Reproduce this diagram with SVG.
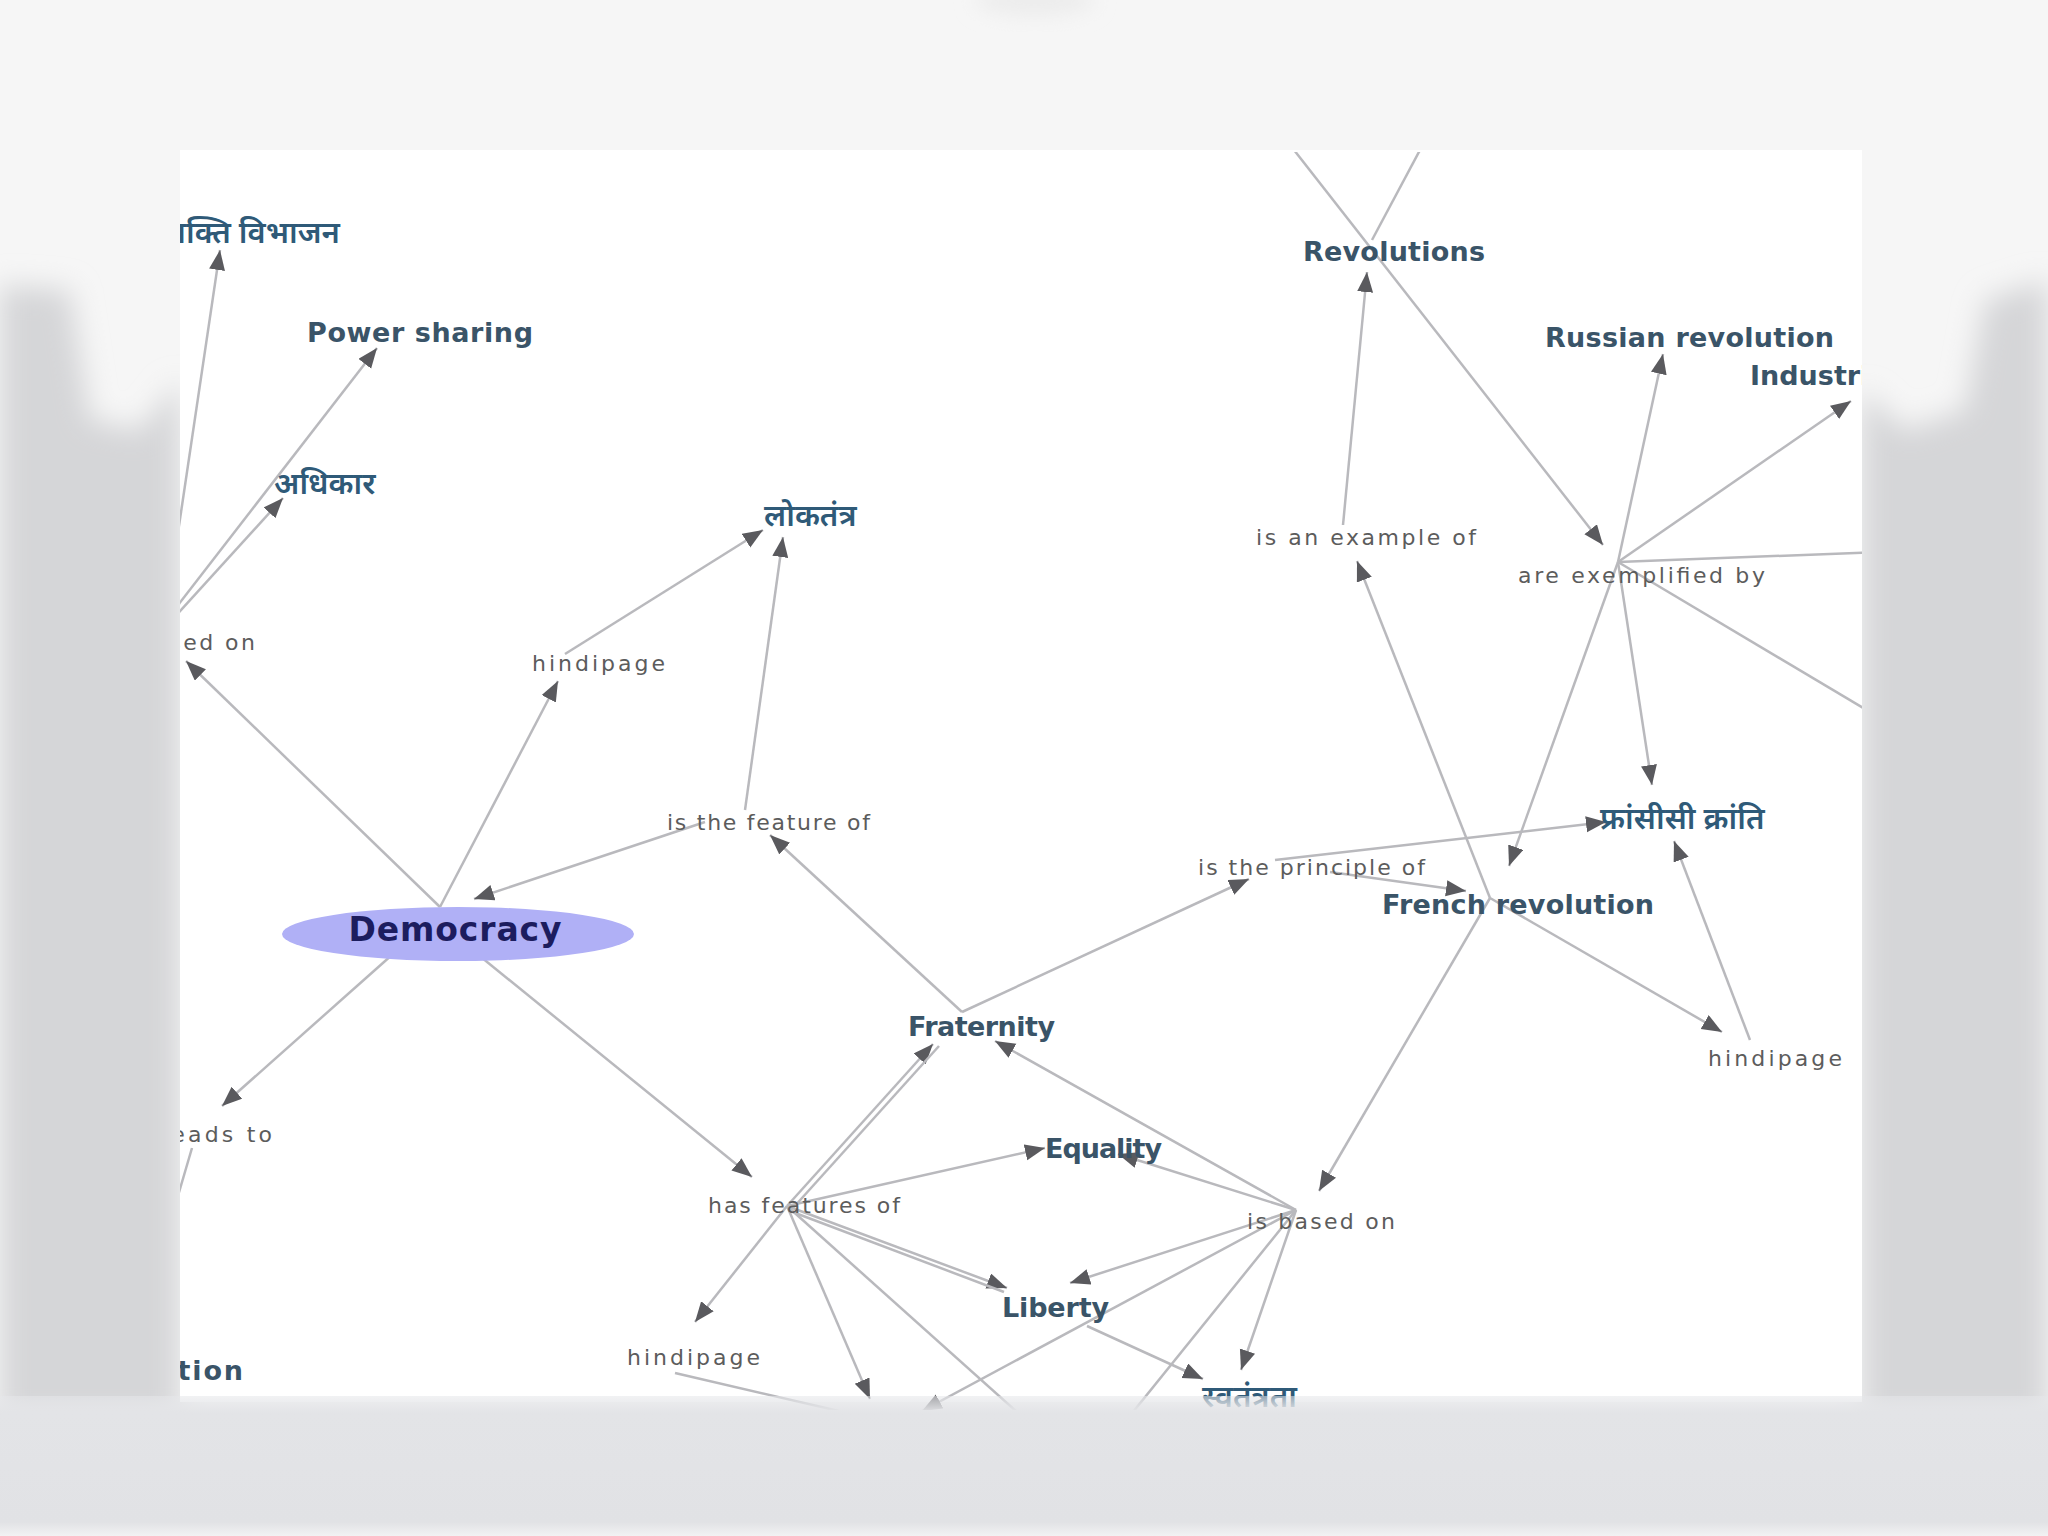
<svg xmlns="http://www.w3.org/2000/svg" width="2048" height="1536" viewBox="0 0 2048 1536">
<defs>
<style>
.cn{font-family:"DejaVu Sans","Liberation Sans",sans-serif;font-weight:bold;font-size:27px;fill:#3a5468}
.hi{font-family:"Noto Sans","DejaVu Sans",sans-serif;font-weight:600;font-size:31px;fill:#2f5a78}
.lk{font-family:"DejaVu Sans","Liberation Sans",sans-serif;font-size:22px;fill:#5c5c5c}
.ln{stroke:#b9b9bd;stroke-width:2.5;fill:none}
.ar{marker-end:url(#ah)}
</style>
<marker id="ah" markerUnits="userSpaceOnUse" markerWidth="22" markerHeight="18" refX="20" refY="8" orient="auto">
<path d="M0,0 L20,8 L0,16 z" fill="#5a5a5e"/>
</marker>
<clipPath id="panel"><rect x="180" y="152" width="1682" height="1258"/></clipPath>
<filter id="blur" x="-50%" y="-50%" width="200%" height="200%"><feGaussianBlur stdDeviation="14"/></filter>
<filter id="blur2" x="-50%" y="-50%" width="200%" height="200%"><feGaussianBlur stdDeviation="10"/></filter>
<linearGradient id="band" x1="0" y1="0" x2="0" y2="1">
<stop offset="0" stop-color="#e6e7ea" stop-opacity="0.55"/>
<stop offset="0.12" stop-color="#e3e4e7"/>
<stop offset="0.9" stop-color="#e1e2e5"/>
<stop offset="1" stop-color="#f2f2f3"/>
</linearGradient>
</defs>
<g id="background">
<rect width="2048" height="1536" fill="#f6f6f6"/>
<g filter="url(#blur)" fill="#d5d6d8">
<path d="M0,285 L70,290 L90,420 L140,430 L180,380 L180,1420 L0,1420 z"/>
<path d="M2048,280 L1985,300 L1965,410 L1905,430 L1862,390 L1862,1420 L2048,1420 z"/>
</g>
<g filter="url(#blur2)" fill="#ececec">
<ellipse cx="1035" cy="0" rx="60" ry="16"/>
</g>
<rect x="180" y="150" width="1682" height="1252" fill="#ffffff"/>
</g>
<g clip-path="url(#panel)">
<g id="connectors">
<line class="ln ar" x1="165" y1="620" x2="220" y2="250"/>
<line class="ln ar" x1="168" y1="618" x2="377" y2="348"/>
<line class="ln ar" x1="170" y1="622" x2="283" y2="498"/>
<line class="ln ar" x1="440" y1="907" x2="186" y2="661"/>
<line class="ln ar" x1="440" y1="907" x2="558" y2="681"/>
<line class="ln ar" x1="565" y1="654" x2="763" y2="530"/>
<line class="ln ar" x1="745" y1="810" x2="783" y2="537"/>
<line class="ln ar" x1="705" y1="822" x2="474" y2="899"/>
<line class="ln ar" x1="962" y1="1012" x2="770" y2="835"/>
<line class="ln ar" x1="402" y1="946" x2="222" y2="1106"/>
<line class="ln" x1="192" y1="1148" x2="165" y2="1240"/>
<line class="ln ar" x1="465" y1="944" x2="752" y2="1177"/>
<line class="ln ar" x1="787" y1="1206" x2="933" y2="1044"/>
<line class="ln" x1="793" y1="1208" x2="939" y2="1046"/>
<line class="ln ar" x1="787" y1="1206" x2="1045" y2="1148"/>
<line class="ln ar" x1="787" y1="1206" x2="1007" y2="1288"/>
<line class="ln" x1="790" y1="1211" x2="1004" y2="1292"/>
<line class="ln ar" x1="787" y1="1206" x2="695" y2="1322"/>
<line class="ln ar" x1="787" y1="1206" x2="870" y2="1399"/>
<line class="ln" x1="787" y1="1206" x2="1017" y2="1412"/>
<line class="ln" x1="675" y1="1373" x2="843" y2="1412"/>
<line class="ln ar" x1="1087" y1="1326" x2="1203" y2="1379"/>
<line class="ln ar" x1="1296" y1="1210" x2="922" y2="1411"/>
<line class="ln ar" x1="1296" y1="1210" x2="995" y2="1041"/>
<line class="ln ar" x1="1296" y1="1210" x2="1118" y2="1154"/>
<line class="ln ar" x1="1296" y1="1210" x2="1070" y2="1283"/>
<line class="ln ar" x1="1296" y1="1210" x2="1241" y2="1370"/>
<line class="ln" x1="1296" y1="1210" x2="1133" y2="1412"/>
<line class="ln ar" x1="1490" y1="898" x2="1319" y2="1191"/>
<line class="ln ar" x1="962" y1="1012" x2="1249" y2="879"/>
<line class="ln ar" x1="1330" y1="872" x2="1466" y2="891"/>
<line class="ln ar" x1="1275" y1="860" x2="1606" y2="822"/>
<line class="ln ar" x1="1490" y1="898" x2="1357" y2="561"/>
<line class="ln ar" x1="1343" y1="525" x2="1367" y2="272"/>
<line class="ln ar" x1="1294" y1="150" x2="1603" y2="545"/>
<line class="ln" x1="1420" y1="150" x2="1372" y2="240"/>
<line class="ln ar" x1="1618" y1="562" x2="1663" y2="354"/>
<line class="ln ar" x1="1618" y1="562" x2="1851" y2="401"/>
<line class="ln" x1="1618" y1="562" x2="1880" y2="552"/>
<line class="ln" x1="1618" y1="562" x2="1880" y2="718"/>
<line class="ln ar" x1="1618" y1="562" x2="1652" y2="785"/>
<line class="ln ar" x1="1618" y1="562" x2="1509" y2="866"/>
<line class="ln ar" x1="1490" y1="898" x2="1722" y2="1032"/>
<line class="ln ar" x1="1750" y1="1040" x2="1674" y2="841"/>
</g>
<g id="n-democracy">
<ellipse cx="458" cy="934" rx="176" ry="27" fill="#b0b0f6"/>
<text x="455" y="941" text-anchor="middle" font-family="'DejaVu Sans','Liberation Sans',sans-serif" font-weight="bold" font-size="33" fill="#1c1c5e" textLength="213">Democracy</text>
</g>
<g id="n-shakti"><text class="hi" x="340" y="243" text-anchor="end">शक्ति विभाजन</text></g>
<g id="n-power"><text class="cn" x="307" y="342" textLength="226">Power sharing</text></g>
<g id="n-adhikar"><text class="hi" x="274" y="494">अधिकार</text></g>
<g id="n-loktantra"><text class="hi" x="764" y="526">लोकतंत्र</text></g>
<g id="n-revolutions"><text class="cn" x="1303" y="261" textLength="182">Revolutions</text></g>
<g id="n-russian"><text class="cn" x="1545" y="347" textLength="289">Russian revolution</text></g>
<g id="n-industrial"><text class="cn" x="1750" y="385">Industrial revolution</text></g>
<g id="n-francisi"><text class="hi" x="1600" y="829">फ्रांसीसी क्रांति</text></g>
<g id="n-french"><text class="cn" x="1382" y="914" textLength="272">French revolution</text></g>
<g id="n-fraternity"><text class="cn" x="908" y="1036" textLength="147">Fraternity</text></g>
<g id="n-equality"><text class="cn" x="1045" y="1158" textLength="117">Equality</text></g>
<g id="n-liberty"><text class="cn" x="1002" y="1317" textLength="107">Liberty</text></g>
<g id="n-swatantrata"><text class="hi" x="1202" y="1407">स्वतंत्रता</text></g>
<g id="n-ution"><text class="cn" x="243" y="1380" text-anchor="end" textLength="180">Revolution</text></g>
<g id="l-basedon-left"><text class="lk" x="255" y="650" text-anchor="end" textLength="150">is based on</text></g>
<g id="l-hindipage1"><text class="lk" x="532" y="671" textLength="133">hindipage</text></g>
<g id="l-feature"><text class="lk" x="667" y="830" textLength="203">is the feature of</text></g>
<g id="l-example"><text class="lk" x="1256" y="545" textLength="220">is an example of</text></g>
<g id="l-exemplified"><text class="lk" x="1518" y="583" textLength="247">are exemplified by</text></g>
<g id="l-principle"><text class="lk" x="1198" y="875" textLength="227">is the principle of</text></g>
<g id="l-hindipage2"><text class="lk" x="1708" y="1066" textLength="134">hindipage</text></g>
<g id="l-leadsto"><text class="lk" x="272" y="1142" text-anchor="end" textLength="110">leads to</text></g>
<g id="l-hasfeatures"><text class="lk" x="708" y="1213" textLength="192">has features of</text></g>
<g id="l-basedon"><text class="lk" x="1247" y="1229" textLength="148">is based on</text></g>
<g id="l-hindipage3"><text class="lk" x="627" y="1365" textLength="133">hindipage</text></g>
</g>
<rect x="0" y="1396" width="2048" height="140" fill="url(#band)"/>
</svg>
